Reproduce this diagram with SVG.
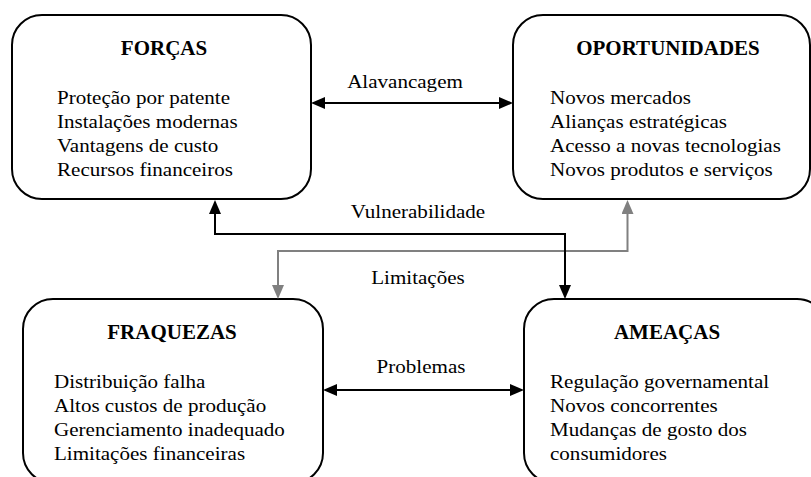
<svg xmlns="http://www.w3.org/2000/svg" width="811" height="477" viewBox="0 0 811 477">
<style>
.box{fill:#fff;stroke:#000;stroke-width:2}
.title{font-family:"Liberation Serif","Times New Roman",serif;font-weight:bold;font-size:20px;fill:#000;text-anchor:middle}
.body{font-family:"Liberation Serif","Times New Roman",serif;font-size:18px;fill:#000}
.lbl{font-family:"Liberation Serif","Times New Roman",serif;font-size:18px;fill:#000;text-anchor:middle}
.blk{fill:none;stroke:#000;stroke-width:2}
.gry{fill:none;stroke:#808080;stroke-width:2}
</style>
<defs>
<marker id="ab" markerUnits="userSpaceOnUse" markerWidth="14" markerHeight="12" refX="2" refY="6" orient="auto-start-reverse"><path d="M0,0 L14,6 L0,12 z" fill="#000"/></marker>
<marker id="ag" markerUnits="userSpaceOnUse" markerWidth="14" markerHeight="12" refX="2" refY="6" orient="auto-start-reverse"><path d="M0,0 L14,6 L0,12 z" fill="#808080"/></marker>
</defs>
<rect width="811" height="477" fill="#fff"/>
<g id="forcas">
<rect class="box" x="12" y="15" width="299" height="184" rx="30" ry="30"/>
<text class="title" transform="translate(164,55) scale(1.05,1)">FORÇAS</text>
<g transform="translate(57,0) scale(1.17,1)">
<text class="body" x="0" y="104">Proteção por patente</text>
<text class="body" x="0" y="128">Instalações modernas</text>
<text class="body" x="0" y="152.5">Vantagens de custo</text>
<text class="body" x="0" y="176.5">Recursos financeiros</text>
</g>
</g>
<g id="oportunidades">
<rect class="box" x="513" y="15" width="297" height="184" rx="30" ry="30"/>
<text class="title" transform="translate(668,55) scale(1.05,1)">OPORTUNIDADES</text>
<g transform="translate(550,0) scale(1.17,1)">
<text class="body" x="0" y="104">Novos mercados</text>
<text class="body" x="0" y="128">Alianças estratégicas</text>
<text class="body" x="0" y="152">Acesso a novas tecnologias</text>
<text class="body" x="0" y="176">Novos produtos e serviços</text>
</g>
</g>
<g id="fraquezas">
<rect class="box" x="23" y="299" width="300" height="184" rx="30" ry="30"/>
<text class="title" transform="translate(172,339) scale(1.05,1)">FRAQUEZAS</text>
<g transform="translate(54,0) scale(1.17,1)">
<text class="body" x="0" y="388.5">Distribuição falha</text>
<text class="body" x="0" y="412.5">Altos custos de produção</text>
<text class="body" x="0" y="436.5">Gerenciamento inadequado</text>
<text class="body" x="0" y="460.5">Limitações financeiras</text>
</g>
</g>
<g id="ameacas">
<rect class="box" x="524" y="299" width="303" height="184" rx="30" ry="30"/>
<text class="title" transform="translate(667,339) scale(1.05,1)">AMEAÇAS</text>
<g transform="translate(550,0) scale(1.17,1)">
<text class="body" x="0" y="388.5">Regulação governamental</text>
<text class="body" x="0" y="412.5">Novos concorrentes</text>
<text class="body" x="0" y="436.5">Mudanças de gosto dos</text>
<text class="body" x="0" y="460.5">consumidores</text>
</g>
</g>
<g id="connectors">
<line class="blk" x1="323" y1="103" x2="501" y2="103" marker-start="url(#ab)" marker-end="url(#ab)"/>
<line class="blk" x1="335" y1="390" x2="512" y2="390" marker-start="url(#ab)" marker-end="url(#ab)"/>
<path class="gry" d="M627.5,212 L627.5,251 L278,251 L278,287" marker-start="url(#ag)" marker-end="url(#ag)"/>
<path class="blk" d="M215,212 L215,234 L565,234 L565,287" marker-start="url(#ab)" marker-end="url(#ab)"/>
<text class="lbl" transform="translate(405,88) scale(1.17,1)">Alavancagem</text>
<text class="lbl" transform="translate(418,218) scale(1.17,1)">Vulnerabilidade</text>
<text class="lbl" transform="translate(418,284) scale(1.17,1)">Limitações</text>
<text class="lbl" transform="translate(421,373) scale(1.17,1)">Problemas</text>
</g>
</svg>
